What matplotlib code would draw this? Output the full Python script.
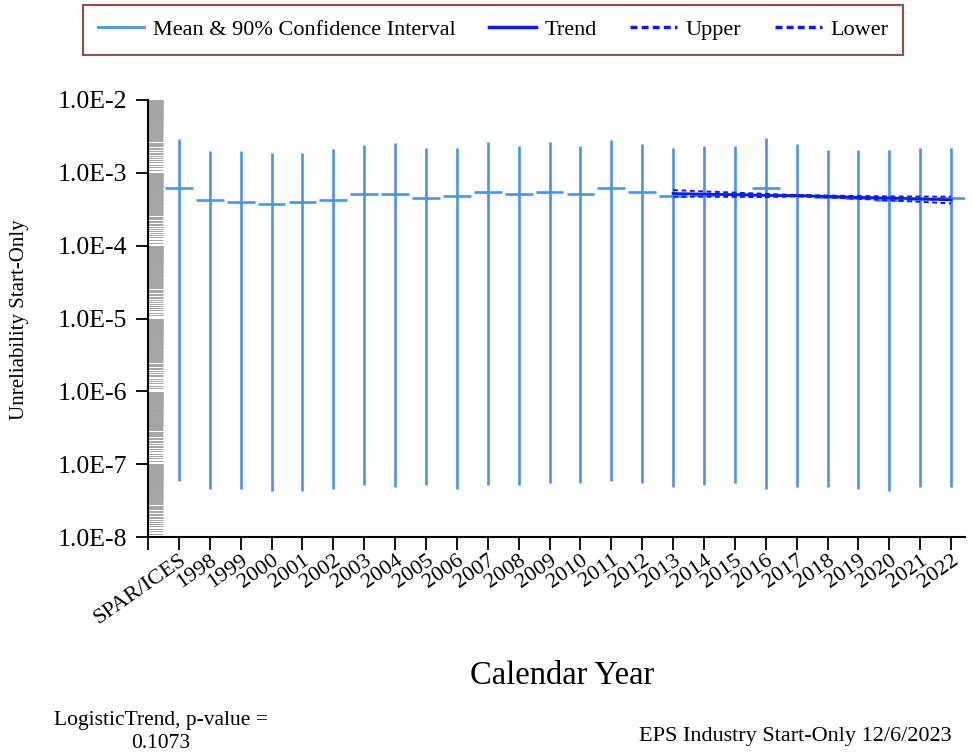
import numpy as np
import matplotlib
matplotlib.use("Agg")
import matplotlib.pyplot as plt
from matplotlib.lines import Line2D
from matplotlib.ticker import FixedLocator, NullFormatter

plt.rcParams['font.family'] = ['Liberation Serif', 'DejaVu Serif']

categories = ["SPAR/ICES", "1998", "1999", "2000", "2001", "2002", "2003", "2004",
              "2005", "2006", "2007", "2008", "2009", "2010", "2011", "2012",
              "2013", "2014", "2015", "2016", "2017", "2018", "2019", "2020",
              "2021", "2022"]
means = [6.18e-4, 4.23e-4, 3.97e-4, 3.69e-4, 3.97e-4, 4.27e-4, 5.06e-4, 5.06e-4,
         4.55e-4, 4.86e-4, 5.45e-4, 5.12e-4, 5.45e-4, 5.12e-4, 6.25e-4, 5.45e-4,
         4.86e-4, 5.0e-4, 5.2e-4, 6.25e-4, 4.9e-4, 4.7e-4, 4.5e-4, 4.3e-4,
         4.4e-4, 4.55e-4]
uppers = [2.88e-3, 1.99e-3, 2.0e-3, 1.87e-3, 1.87e-3, 2.12e-3, 2.41e-3, 2.57e-3,
          2.21e-3, 2.21e-3, 2.68e-3, 2.36e-3, 2.68e-3, 2.36e-3, 2.85e-3, 2.51e-3,
          2.21e-3, 2.36e-3, 2.36e-3, 3.05e-3, 2.51e-3, 2.08e-3, 2.08e-3, 2.08e-3,
          2.21e-3, 2.21e-3]
lowers = [5.9e-8, 4.54e-8, 4.54e-8, 4.26e-8, 4.26e-8, 4.54e-8, 5.15e-8, 4.83e-8,
          5.15e-8, 4.54e-8, 5.15e-8, 5.15e-8, 5.54e-8, 5.43e-8, 5.9e-8, 5.54e-8,
          4.83e-8, 5.15e-8, 5.54e-8, 4.54e-8, 4.83e-8, 4.83e-8, 4.54e-8, 4.26e-8,
          4.83e-8, 4.83e-8]

trend_years = ["2013", "2014", "2015", "2016", "2017", "2018", "2019", "2020", "2021", "2022"]
trend = [5.2e-4, 5.1e-4, 5.0e-4, 4.9e-4, 4.85e-4, 4.75e-4, 4.6e-4, 4.5e-4, 4.4e-4, 4.25e-4]
trend_upper = [5.8e-4, 5.55e-4, 5.35e-4, 5.15e-4, 4.95e-4, 4.88e-4, 4.8e-4, 4.75e-4, 4.72e-4, 4.7e-4]
trend_lower = [4.7e-4, 4.7e-4, 4.68e-4, 4.65e-4, 4.75e-4, 4.6e-4, 4.4e-4, 4.2e-4, 4.0e-4, 3.8e-4]

ytick_vals = [1e-8, 1e-7, 1e-6, 1e-5, 1e-4, 1e-3, 1e-2]
ytick_labels = ["1.0E-8", "1.0E-7", "1.0E-6", "1.0E-5", "1.0E-4", "1.0E-3", "1.0E-2"]

CI_COLOR = '#4a92ea'
TREND_COLOR = '#0a1aff'

fig = plt.figure(figsize=(9.73, 7.54), dpi=100)
ax = fig.add_axes([148/973, 1-537/754, (965-148)/973, (537-100)/754])

x = np.arange(len(categories))
ax.vlines(x, lowers, uppers, color=CI_COLOR, lw=1.9)
ax.hlines(means, x - 0.45, x + 0.45, color=CI_COLOR, lw=1.9)

tx = [categories.index(t) for t in trend_years]
ax.plot(tx, trend, color=TREND_COLOR, lw=2.0)
ax.plot(tx, trend_upper, color=TREND_COLOR, lw=1.4, ls=(0, (2.5, 1.8)))
ax.plot(tx, trend_lower, color=TREND_COLOR, lw=1.4, ls=(0, (2.5, 1.8)))

ax.set_yscale('log')
ax.set_ylim(1e-8, 1e-2)
ax.set_xlim(-1, 25.45)

ax.yaxis.set_major_locator(FixedLocator(ytick_vals))
ax.set_yticklabels(ytick_labels, fontsize=18.5)
minor = []
for d in range(-8, -2):
    for k in np.arange(1.1, 9.95, 0.1):
        minor.append(k * 10.0**d)
ax.yaxis.set_minor_locator(FixedLocator(minor))
ax.yaxis.set_minor_formatter(NullFormatter())
ax.tick_params(axis='y', which='major', direction='out', length=9, width=1.3, pad=6)
ax.tick_params(axis='y', which='minor', direction='in', length=11, width=0.7, color='#a4a4a4')

ax.set_xticks(np.arange(-1, len(categories)))
ax.set_xticklabels([''] + categories, rotation=35, ha='right', rotation_mode='anchor', fontsize=16)
ax.tick_params(axis='x', which='major', direction='out', length=9, width=1.3, pad=1)
ax.tick_params(axis='x', which='minor', bottom=False)

for s in ['top', 'right']:
    ax.spines[s].set_visible(False)
ax.spines['left'].set_linewidth(1.5)
ax.spines['bottom'].set_linewidth(1.5)

ax.set_xlabel("Calendar Year", fontsize=23.5)
ax.xaxis.set_label_coords((562-148)/(965-148), -(661-537)/(537-100))
fig.text(20/973, 1-320/754, "Unreliability Start-Only", rotation=90, fontsize=15,
         ha='center', va='center')

handles = [Line2D([], [], color=CI_COLOR, lw=2),
           Line2D([], [], color=TREND_COLOR, lw=2.5),
           Line2D([], [], color=TREND_COLOR, lw=2.5, ls=(0, (2, 1.2))),
           Line2D([], [], color=TREND_COLOR, lw=2.5, ls=(0, (2, 1.2)))]
leg = fig.legend(handles, ["Mean & 90% Confidence Interval", "Trend", "Upper", "Lower"],
                 loc='center', bbox_to_anchor=(493/973, 1-30/754), ncol=4,
                 fontsize=16, frameon=True, fancybox=False, handlelength=2.1,
                 columnspacing=1.5, handletextpad=0.4, borderpad=0.65)
leg.get_frame().set_edgecolor('#8b1a1a')
leg.get_frame().set_linewidth(1.5)

fig.text(161/973, 1-720/754, "LogisticTrend, p-value =", fontsize=15.5, ha='center', va='center')
fig.text(161/973, 1-744/754, "0.1073", fontsize=15.5, ha='center', va='center')
fig.text(952/973, 1-737/754, "EPS Industry Start-Only 12/6/2023", fontsize=16, ha='right', va='center')

fig.savefig("out.png", dpi=100)
